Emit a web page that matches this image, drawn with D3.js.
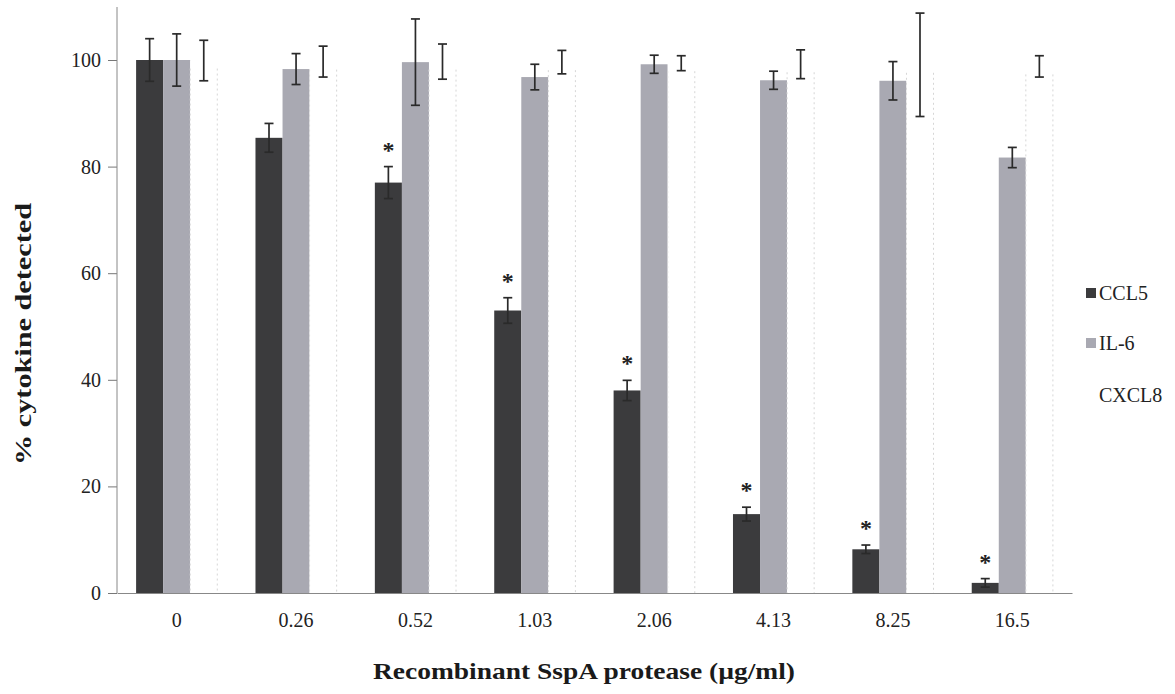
<!DOCTYPE html>
<html><head><meta charset="utf-8">
<script src="https://cdn.jsdelivr.net/npm/d3@7"></script>
<style>body{margin:0;background:#fff}svg{display:block}text{font-family:"Liberation Serif","Times New Roman",serif}</style>
</head><body><svg id="c" width="1175" height="694"></svg>
<script>
const categories = ["0","0.26","0.52","1.03","2.06","4.13","8.25","16.5"];
const seriesNames = ["CCL5","IL-6","CXCL8"];
const ccl5 = [100, 85.4, 77.0, 53.0, 38.0, 14.8, 8.2, 1.9];
const ccl5Err = [4.0, 2.7, 3.0, 2.4, 1.9, 1.3, 0.8, 0.8];
const il6 = [100, 98.3, 99.6, 96.8, 99.2, 96.2, 96.1, 81.7];
const il6Err = [4.9, 2.9, 8.1, 2.4, 1.7, 1.7, 3.6, 1.9];
const cxcl8 = [99.9, 99.7, 99.7, 99.6, 99.4, 99.2, 99.1, 98.8];
const cxcl8Err = [3.8, 2.9, 3.3, 2.2, 1.4, 2.7, 9.7, 2.0];
const significant = [false, false, true, true, true, true, true, true];
const yTicks = [0,20,40,60,80,100];

const values = [ccl5, il6, cxcl8];
const errs = [ccl5Err, il6Err, cxcl8Err];
const colors = ["#3b3b3d", "#a9a9b2", "#ffffff"];

const svg = d3.select("#c");
const x0 = d3.scaleBand().domain(categories).range([117, 1072]).paddingInner(0.32).paddingOuter(0.16);
const x1 = d3.scaleBand().domain(seriesNames).range([0, x0.bandwidth()]);
const y = d3.scaleLinear().domain([0, 100]).range([593, 60]);

// bars
categories.forEach((c, i) => {
  const g = svg.append("g").attr("transform", `translate(${x0(c)},0)`);
  seriesNames.forEach((s, k) => {
    const v = values[k][i];
    g.append("rect")
      .attr("x", x1(s)).attr("width", x1.bandwidth())
      .attr("y", y(v)).attr("height", y(0) - y(v))
      .attr("fill", colors[k]);
    if (k === 2) {
      [x1(s), x1(s) + x1.bandwidth()].forEach(xx => {
        g.append("line").attr("x1", xx).attr("x2", xx)
          .attr("y1", y(v) + 8).attr("y2", y(0)).attr("stroke", "#d6d6d6").attr("stroke-width", 1).attr("stroke-dasharray", "2,3");
      });
    }
  });
});

// error bars
categories.forEach((c, i) => {
  seriesNames.forEach((s, k) => {
    const cx = x0(c) + x1(s) + x1.bandwidth() / 2;
    const v = values[k][i], e = errs[k][i];
    const g = svg.append("g").attr("stroke", "#2a2a2a").attr("stroke-width", 1.7);
    g.append("line").attr("x1", cx).attr("x2", cx).attr("y1", y(v + e)).attr("y2", y(v - e));
    g.append("line").attr("x1", cx - 4.5).attr("x2", cx + 4.5).attr("y1", y(v + e)).attr("y2", y(v + e));
    g.append("line").attr("x1", cx - 4.5).attr("x2", cx + 4.5).attr("y1", y(v - e)).attr("y2", y(v - e));
  });
  if (significant[i]) {
    const cx = x0(c) + x1("CCL5") + x1.bandwidth() / 2;
    svg.append("text").attr("x", cx).attr("y", y(ccl5[i] + ccl5Err[i]) - 9)
      .attr("text-anchor", "middle").attr("font-size", 24).attr("font-weight", "bold").attr("fill", "#222").text("*");
  }
});

// y axis
const yAxis = d3.axisLeft(y).tickValues(yTicks).tickSize(9).tickSizeOuter(0);
const ya = svg.append("g").attr("transform", "translate(117,0)").call(yAxis);
ya.select(".domain").remove();
ya.selectAll(".tick line").attr("stroke", "#777");
ya.selectAll(".tick text").attr("font-size", 20).attr("fill", "#222").attr("x", -16)
  .style("font-family", '"Liberation Serif",serif');
svg.append("line").attr("x1", 117).attr("x2", 117).attr("y1", 7).attr("y2", 593).attr("stroke", "#888").attr("stroke-width", 1);

// x axis
const xAxis = d3.axisBottom(x0).tickSize(0).tickSizeOuter(0);
const xa = svg.append("g").attr("transform", "translate(0,593)").call(xAxis);
xa.select(".domain").attr("stroke", "#888");
xa.selectAll(".tick text").attr("font-size", 20).attr("fill", "#222").attr("dy", 0).attr("y", 34)
  .style("font-family", '"Liberation Serif",serif');

// titles
svg.append("text").attr("x", 584).attr("y", 679).attr("text-anchor", "middle")
  .attr("font-size", 23).attr("font-weight", "bold").attr("fill", "#1a1a1a")
  .attr("textLength", 422).attr("lengthAdjust", "spacingAndGlyphs")
  .text("Recombinant SspA protease (µg/ml)");
svg.append("text").attr("transform", "translate(31,334) rotate(-90)").attr("text-anchor", "middle")
  .attr("font-size", 23).attr("font-weight", "bold").attr("fill", "#1a1a1a")
  .attr("textLength", 262).attr("lengthAdjust", "spacingAndGlyphs")
  .text("% cytokine detected");

// legend
const legY = [300, 350, 402];
seriesNames.forEach((s, k) => {
  svg.append("rect").attr("x", 1086).attr("y", legY[k] - 12).attr("width", 10).attr("height", 10).attr("fill", colors[k]);
  svg.append("text").attr("x", 1099).attr("y", legY[k]).attr("font-size", 20).attr("fill", "#222").text(s);
});
</script></body></html>
